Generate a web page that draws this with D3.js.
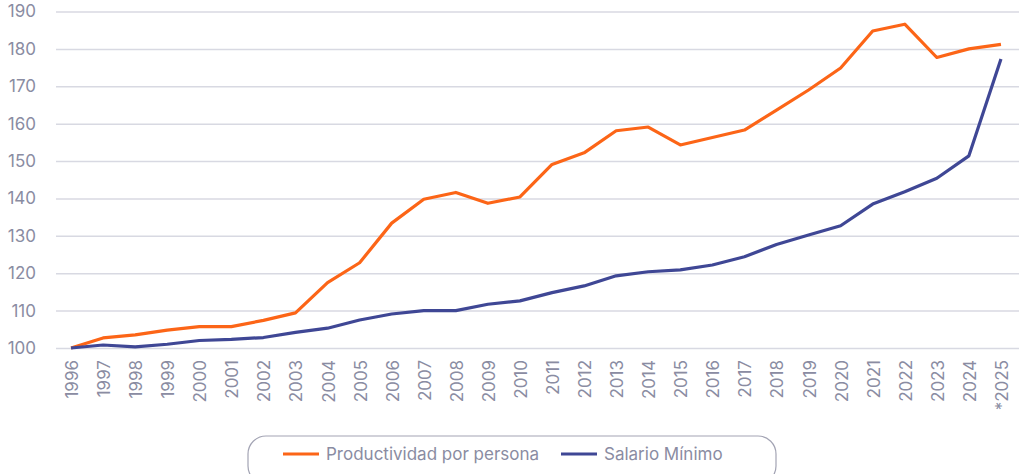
<!DOCTYPE html>
<html>
<head>
<meta charset="utf-8">
<script src="https://cdn.jsdelivr.net/npm/d3@7"></script>
<style>
  body { margin: 0; background: #fff; }
  svg { display: block; font-family: Inter, "Noto Sans", sans-serif; }
</style>
</head>
<body>
<svg id="chart" width="1019" height="474"></svg>
<script>
// data
var years = ["1996","1997","1998","1999","2000","2001","2002","2003","2004","2005",
  "2006","2007","2008","2009","2010","2011","2012","2013","2014","2015",
  "2016","2017","2018","2019","2020","2021","2022","2023","2024","*2025"];
var productividad = [100, 102.7, 103.5, 104.8, 105.7, 105.7, 107.4, 109.4, 117.5, 122.8,
  133.4, 139.8, 141.6, 138.7, 140.4, 149.1, 152.2, 158.1, 159.1, 154.3,
  156.3, 158.3, 163.6, 169, 174.9, 184.8, 186.6, 177.7, 180, 181.2];
var salario = [100, 100.8, 100.3, 101, 102, 102.3, 102.8, 104.2, 105.3, 107.5,
  109.1, 110, 110, 111.7, 112.6, 114.8, 116.6, 119.3, 120.4, 120.9,
  122.2, 124.4, 127.7, 130.2, 132.7, 138.5, 141.8, 145.4, 151.4, 177.3];
var yTicks = [100, 110, 120, 130, 140, 150, 160, 170, 180, 190];
var seriesNames = ["Productividad por persona", "Salario Mínimo"];
var seriesColors = ["#fc6517", "#3f4795"];

var svg = d3.select("#chart");
var textColor = "#8a8ca2";

var x = d3.scaleBand().domain(years).range([55, 1017]);
var y = d3.scaleLinear().domain([100, 190]).range([348, 11.5]);

// gridlines + y labels
var yAxis = svg.append("g").attr("transform", "translate(56,0)")
  .call(d3.axisLeft(y).tickValues(yTicks).tickSize(-963).tickPadding(20));
yAxis.select(".domain").remove();
yAxis.selectAll("line").attr("stroke", "#d8d9e2").attr("stroke-width", 1.5);
yAxis.selectAll("text").attr("fill", textColor).style("font-size", "17px")
  .style("font-family", "Inter, sans-serif");

// x labels, rotated
var xAxis = svg.append("g").attr("transform", "translate(0,348)")
  .call(d3.axisBottom(x).tickSize(0));
xAxis.select(".domain").remove();
xAxis.selectAll("text")
  .attr("fill", textColor).style("font-size", "17px").style("font-family", "Inter, sans-serif")
  .attr("transform", "rotate(-90)")
  .attr("text-anchor", "end")
  .attr("x", -12).attr("y", 1).attr("dy", "0.35em");

var line = d3.line()
  .x(function(d, i){ return x(years[i]) + x.bandwidth()/2; })
  .y(function(d){ return y(d); });

[productividad, salario].forEach(function(s, k){
  svg.append("path").datum(s)
    .attr("d", line)
    .attr("fill", "none")
    .attr("stroke", seriesColors[k])
    .attr("stroke-width", 3.2)
    .attr("stroke-linejoin", "round");
});

// legend
svg.append("rect")
  .attr("x", 248).attr("y", 436).attr("width", 528).attr("height", 48)
  .attr("rx", 18).attr("fill", "#fff")
  .attr("stroke", "#a3a4b4").attr("stroke-width", 1.2);

var legendX = [283, 561];
seriesNames.forEach(function(n, k){
  var g = svg.append("g").attr("transform", "translate(" + legendX[k] + ",454)");
  g.append("line").attr("x1", 0).attr("x2", 36)
    .attr("stroke", seriesColors[k]).attr("stroke-width", 3.2);
  g.append("text").attr("x", 43).attr("dy", "0.35em")
    .attr("fill", textColor).style("font-size", "17px")
    .text(n);
});
</script>
</body>
</html>
